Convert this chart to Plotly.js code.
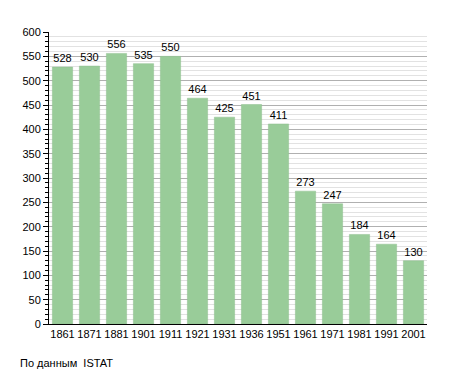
<!DOCTYPE html>
<html><head><meta charset="utf-8">
<script src="https://cdn.plot.ly/plotly-3.0.1.min.js"></script>
<style>html,body{margin:0;padding:0;background:#fff}</style>
</head><body>
<div id="chart" style="width:455px;height:373px"></div>
<script>
const years = ["1861","1871","1881","1901","1911","1921","1931","1936","1951","1961","1971","1981","1991","2001"];
const population = [528,530,556,535,550,464,425,451,411,273,247,184,164,130];
const sourceNote = "По данным  ISTAT";

const trace = {
  type: "bar",
  x: years,
  y: population,
  text: population.map(String),
  textposition: "outside",
  cliponaxis: false,
  textfont: {family: "Liberation Sans, Arial, sans-serif", size: 11, color: "#000"},
  marker: {color: "#99cc99", line: {color: "#8fbf8f", width: 0.5}},
  hoverinfo: "x+y"
};

const layout = {
  width: 455, height: 373,
  margin: {l: 49, r: 28, t: 32, b: 49},
  paper_bgcolor: "#fff", plot_bgcolor: "#fff",
  bargap: 0.25,
  showlegend: false,
  font: {family: "Liberation Sans, Arial, sans-serif", size: 11, color: "#000"},
  xaxis: {
    type: "category",
    showline: true, linecolor: "#000", linewidth: 1,
    ticks: "", showgrid: false,
    tickfont: {size: 11}
  },
  yaxis: {
    range: [0, 600],
    dtick: 50,
    showline: true, linecolor: "#000", linewidth: 1,
    ticks: "outside", ticklen: 5, tickcolor: "#000",
    showgrid: true, gridcolor: "#b0b0b0", gridwidth: 1,
    zeroline: false,
    tickfont: {size: 11},
    minor: {dtick: 10, showgrid: true, gridcolor: "#e2e2e2", ticks: "outside", ticklen: 3, tickcolor: "#000"}
  },
  annotations: [{
    text: sourceNote, xref: "paper", yref: "paper",
    x: -0.082, y: -0.135, xanchor: "left", yanchor: "middle",
    showarrow: false, font: {size: 11, color: "#000"}
  }]
};

Plotly.newPlot("chart", [trace], layout, {displayModeBar: false, staticPlot: true});
</script>
</body></html>
